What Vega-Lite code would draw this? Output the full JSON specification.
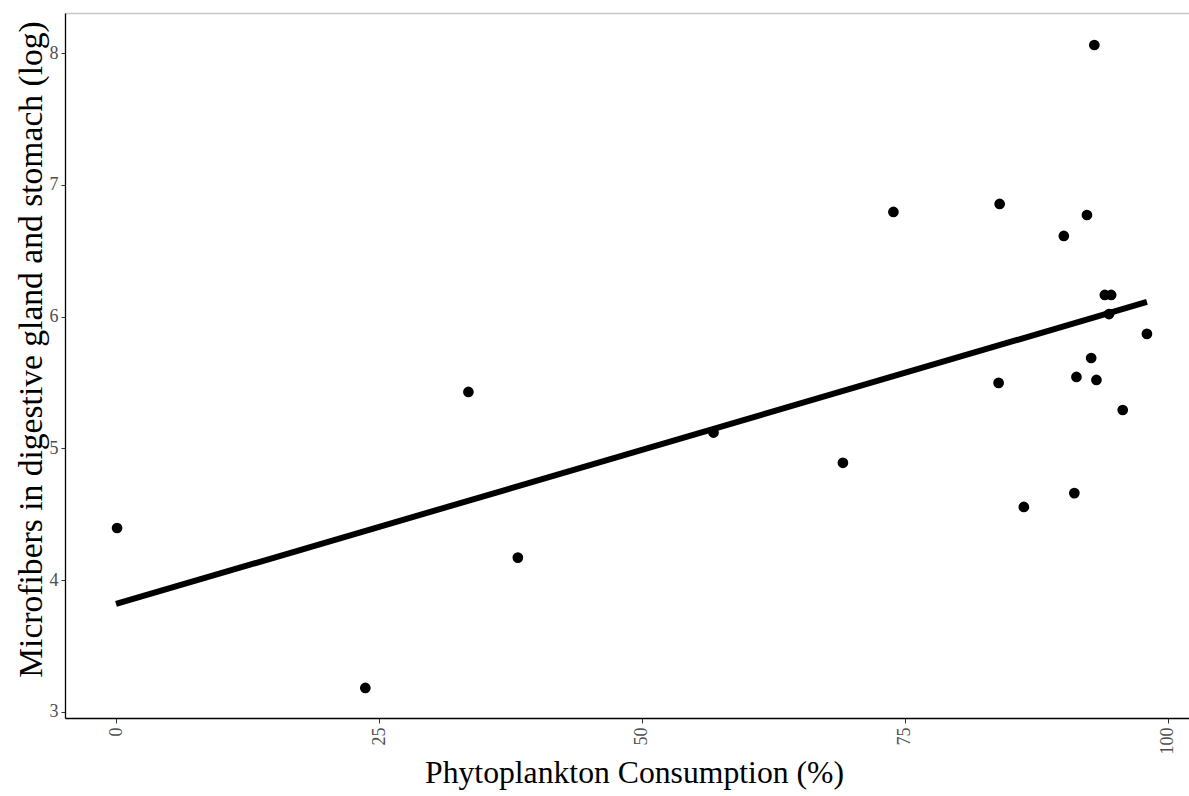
{
  "$schema": "https://vega.github.io/schema/vega-lite/v6.json",
  "width": 1124,
  "height": 705,
  "autosize": {"type": "none"},
  "padding": {"left": 65, "top": 13, "right": 0, "bottom": 78},
  "background": "white",
  "config": {
    "view": {"stroke": null},
    "axis": {
      "labelFont": "Liberation Serif",
      "titleFont": "Liberation Serif",
      "labelColor": "#4d4d4d",
      "titleColor": "#000000",
      "tickColor": "#333333",
      "domainColor": "#000000",
      "grid": false,
      "titleFontWeight": "normal"
    }
  },
  "datasets": {
    "obs": [
      {"phyto": 0.1, "fibers": 4.395},
      {"phyto": 23.7, "fibers": 3.18},
      {"phyto": 33.5, "fibers": 5.428},
      {"phyto": 38.2, "fibers": 4.17},
      {"phyto": 56.8, "fibers": 5.12},
      {"phyto": 69.1, "fibers": 4.89},
      {"phyto": 73.9, "fibers": 6.795},
      {"phyto": 84.0, "fibers": 6.856},
      {"phyto": 83.9, "fibers": 5.497},
      {"phyto": 86.3, "fibers": 4.555},
      {"phyto": 90.1, "fibers": 6.613},
      {"phyto": 92.3, "fibers": 6.772},
      {"phyto": 93.0, "fibers": 8.063},
      {"phyto": 91.3, "fibers": 5.542},
      {"phyto": 91.1, "fibers": 4.66},
      {"phyto": 92.7, "fibers": 5.686},
      {"phyto": 93.2, "fibers": 5.519},
      {"phyto": 94.0, "fibers": 6.165},
      {"phyto": 94.6, "fibers": 6.165},
      {"phyto": 94.4, "fibers": 6.02},
      {"phyto": 95.7, "fibers": 5.291},
      {"phyto": 98.0, "fibers": 5.869}
    ],
    "fit": [
      {"phyto": 0, "fibers": 3.818},
      {"phyto": 98.0, "fibers": 6.112}
    ]
  },
  "layer": [
    {
      "data": {"name": "obs"},
      "mark": {"type": "point", "filled": true, "color": "#000000", "opacity": 1, "size": 115},
      "encoding": {
        "x": {
          "field": "phyto", "type": "quantitative",
          "scale": {"domain": [-4.85, 102.0], "nice": false, "zero": false},
          "axis": {
            "orient": "bottom",
            "values": [0, 25, 50, 75, 100],
            "format": "d",
            "title": "Phytoplankton Consumption (%)",
            "titleFontSize": 31.7,
            "titleBaseline": "alphabetic",
            "titleY": 64,
            "titleX": 569,
            "labelFontSize": 18,
            "labelAngle": -90,
            "labelAlign": "right",
            "labelBaseline": "middle",
            "labelPadding": 4,
            "tickSize": 5,
            "domainWidth": 1.3,
            "labelFlush": false,
            "labelOverlap": false
          }
        },
        "y": {
          "field": "fibers", "type": "quantitative",
          "scale": {"domain": [2.952, 8.306], "nice": false, "zero": false},
          "axis": {
            "values": [3, 4, 5, 6, 7, 8],
            "format": "d",
            "title": "Microfibers in digestive gland and stomach (log)",
            "titleFontSize": 33.6,
            "titleAngle": -90,
            "titleBaseline": "alphabetic",
            "titleX": -24,
            "titleY": 336,
            "titleAlign": "center",
            "labelFontSize": 18,
            "labelPadding": 3,
            "tickSize": 4,
            "domainWidth": 1.3,
            "labelFlush": false,
            "labelOverlap": false
          }
        }
      }
    },
    {
      "data": {"name": "fit"},
      "mark": {"type": "line", "color": "#000000", "strokeWidth": 6, "strokeCap": "butt"},
      "encoding": {
        "x": {
          "field": "phyto", "type": "quantitative",
          "scale": {"domain": [-4.85, 102.0], "nice": false, "zero": false},
          "axis": {
            "orient": "top",
            "labels": false,
            "ticks": false,
            "title": null,
            "domainColor": "#c8c8c8",
            "domainWidth": 1.5
          }
        },
        "y": {"field": "fibers", "type": "quantitative"}
      }
    }
  ],
  "resolve": {"axis": {"x": "independent"}}
}
